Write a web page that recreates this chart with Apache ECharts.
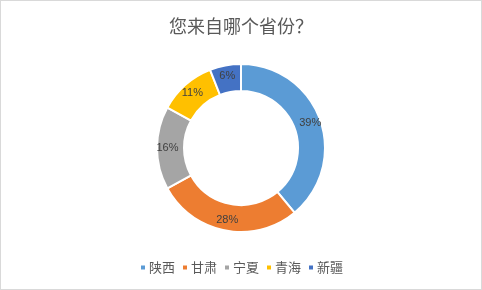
<!DOCTYPE html>
<html>
<head>
<meta charset="utf-8">
<script src="https://cdn.jsdelivr.net/npm/echarts@6/dist/echarts.min.js"></script>
<style>
  html, body { margin: 0; padding: 0; background: #fff; }
  #chart { width: 480px; height: 288px; border: 1px solid #d9d9d9; }
</style>
</head>
<body>
<div id="chart"></div>
<script>
  const provinces = ['陕西', '甘肃', '宁夏', '青海', '新疆']
  const shares = [39, 28, 16, 11, 6]
  const colors = ['#5B9BD5', '#ED7D31', '#A5A5A5', '#FFC000', '#4472C4']

  const chart = echarts.init(document.getElementById('chart'))
  chart.setOption({
    animation: false,
    color: colors,
    title: {
      text: '您来自哪个省份？',
      left: 'center',
      top: 11,
      textStyle: {
        fontFamily: 'Noto Sans CJK SC',
        fontSize: 18,
        fontWeight: 'normal',
        color: '#595959'
      }
    },
    legend: {
      bottom: 10,
      left: 'center',
      itemWidth: 6,
      itemHeight: 6,
      itemGap: 6,
      icon: 'rect',
      textStyle: {
        fontFamily: 'Noto Sans CJK SC',
        fontSize: 13,
        color: '#595959',
        padding: [0, 0, 0, -2]
      },
      data: provinces
    },
    series: [
      {
        name: '省份',
        type: 'pie',
        center: [240, 147],
        radius: [57, 84],
        startAngle: 90,
        clockwise: true,
        itemStyle: {
          borderColor: '#fff',
          borderWidth: 2
        },
        label: {
          position: 'inside',
          formatter: '{c}%',
          fontFamily: 'Liberation Sans',
          fontSize: 11,
          color: '#404040'
        },
        labelLine: { show: false },
        data: provinces.map((name, i) => ({ name: name, value: shares[i] }))
      }
    ]
  })
</script>
</body>
</html>
